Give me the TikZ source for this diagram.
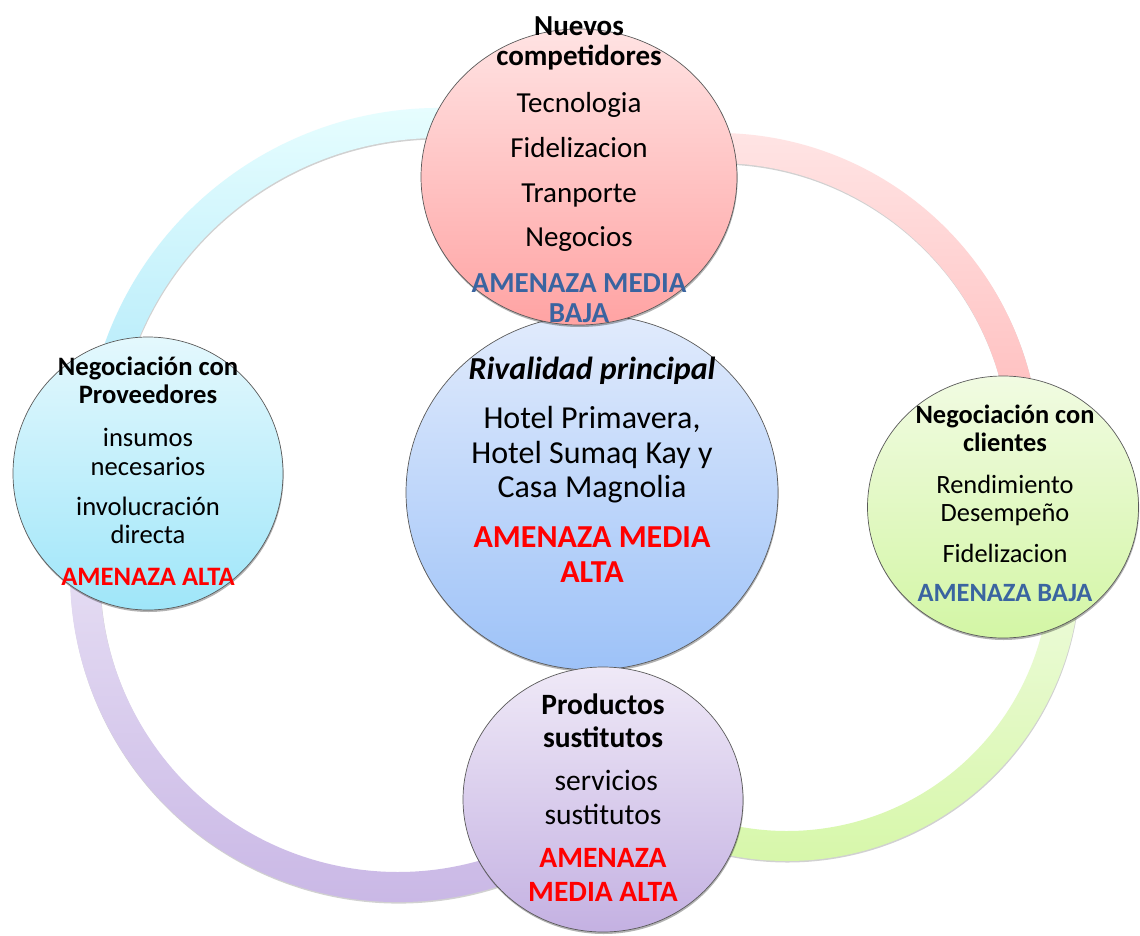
\documentclass[tikz,border=0pt]{standalone}
\usepackage{fontspec}
\setmainfont{Carlito}
\usetikzlibrary{shapes.geometric,shadows}
\definecolor{ambblue}{HTML}{3A64A0}
\definecolor{ambred}{HTML}{FF0000}
\definecolor{rimc}{HTML}{5A5A5A}
\newcommand{\fsz}[2]{\fontsize{#1}{#2}\selectfont\lineskiplimit=-100pt\relax}
\begin{document}
\begin{tikzpicture}[x=1pt,y=-1pt,
  ball/.style={ellipse, draw=rimc, line width=0.7pt, inner sep=0pt, outer sep=0pt,
    drop shadow={shadow xshift=0.6pt, shadow yshift=-2pt, opacity=0.3, fill=black}},
  ring/.style={draw=none, drop shadow={shadow xshift=0.5pt, shadow yshift=-1.5pt, opacity=0.18, fill=black}},
  txt/.style={inner sep=0pt, outer sep=0pt, anchor=north, align=center, text=black},
]
\fill[white] (0,0) rectangle (1140,936);
\useasboundingbox (0,0) rectangle (1140,936);

% centres of the four connecting arcs
\coordinate (cTL) at (439,463);
\coordinate (cTR) at (717,456);
\coordinate (cBR) at (787,568);
\coordinate (cBL) at (398,574);

% arcs
\path[ring, top color=cyan!8!white, bottom color={rgb,255:red,184;green,236;blue,250}]
  ([shift={(195:355)}]cTL) arc[start angle=195, end angle=280, radius=355]
  -- ([shift={(280:325)}]cTL) arc[start angle=280, end angle=195, radius=325] -- cycle;
\path[ring, top color={rgb,255:red,255;green,230;blue,230}, bottom color={rgb,255:red,255;green,188;blue,188}]
  ([shift={(265:323)}]cTR) arc[start angle=265, end angle=355, radius=323]
  -- ([shift={(355:293)}]cTR) arc[start angle=355, end angle=265, radius=293] -- cycle;
\path[ring, top color={rgb,255:red,238;green,251;blue,221}, bottom color={rgb,255:red,214;green,247;blue,168}]
  ([shift={(0:293)}]cBR) arc[start angle=0, end angle=110, radius=293]
  -- ([shift={(110:263)}]cBR) arc[start angle=110, end angle=0, radius=263] -- cycle;
\path[ring, top color={rgb,255:red,233;green,226;blue,245}, bottom color={rgb,255:red,198;green,179;blue,228}]
  ([shift={(65:328)}]cBL) arc[start angle=65, end angle=190, radius=328]
  -- ([shift={(190:298)}]cBL) arc[start angle=190, end angle=65, radius=298] -- cycle;

% circles
\node[ball, minimum width=372pt, minimum height=355pt,
  top color={rgb,255:red,225;green,235;blue,252}, bottom color={rgb,255:red,157;green,194;blue,248}] (rival) at (592,492.5) {};
\node[ball, minimum width=316pt, minimum height=296pt,
  top color={rgb,255:red,255;green,227;blue,227}, bottom color={rgb,255:red,255;green,163;blue,163}] (nuevos) at (579,177) {};
\node[ball, minimum width=270pt, minimum height=273pt,
  top color={rgb,255:red,228;green,248;blue,253}, bottom color={rgb,255:red,159;green,230;blue,249}] (prov) at (148,473.5) {};
\node[ball, minimum width=271pt, minimum height=262pt,
  top color={rgb,255:red,241;green,251;blue,226}, bottom color={rgb,255:red,211;green,246;blue,165}] (cli) at (1003,507) {};
\node[ball, minimum width=280pt, minimum height=265pt,
  top color={rgb,255:red,239;green,233;blue,247}, bottom color={rgb,255:red,196;green,177;blue,226}] (sust) at (603,799.5) {};

% texts
\node[txt, font=\fsz{29}{30}] (tNuevos) at (579,5)
  {\rule{0pt}{30pt}\textbf{Nuevos}\\ \textbf{competidores}\\[17pt] Tecnologia\\[15pt] Fidelizacion\\[15pt] Tranporte\\[14pt] Negocios\\[16pt]
   \textcolor{ambblue}{\textbf{AMENAZA MEDIA}}\\ \textcolor{ambblue}{\textbf{BAJA}}};
\node[txt, font=\fsz{32}{34.5}] (tRival) at (592,349)
  {\rule{0pt}{30pt}\textbf{\textit{Rivalidad principal}}\\[15pt] Hotel Primavera,\\ Hotel Sumaq Kay y\\ Casa Magnolia\\[15.5pt]
   \textcolor{ambred}{\textbf{AMENAZA MEDIA}}\\ \textcolor{ambred}{\textbf{ALTA}}};
\node[txt, font=\fsz{26.6}{28.5}] (tProv) at (148,345)
  {\rule{0pt}{30pt}\textbf{Negociación con}\\ \textbf{Proveedores}\\[14.5pt] insumos\\ necesarios\\[11.5pt] involucración\\ directa\\[13pt]
   \textcolor{ambred}{\textbf{AMENAZA ALTA}}};
\node[txt, font=\fsz{26.4}{28.5}] (tCli) at (1005,393)
  {\rule{0pt}{30pt}\textbf{Negociación con}\\ \textbf{clientes}\\[13pt] Rendimiento\\ Desempeño\\[12pt] Fidelizacion\\[10.5pt]
   \textcolor{ambblue}{\textbf{AMENAZA BAJA}}};
\node[txt, font=\fsz{29.5}{33.5}] (tSust) at (603,684)
  {\rule{0pt}{30pt}\textbf{Productos}\\ \textbf{sustitutos}\\[9.5pt] \hspace{6.5pt}servicios\\ sustitutos\\[10pt]
   \textcolor{ambred}{\textbf{AMENAZA}}\\ \textcolor{ambred}{\textbf{MEDIA ALTA}}};
\end{tikzpicture}
\end{document}
